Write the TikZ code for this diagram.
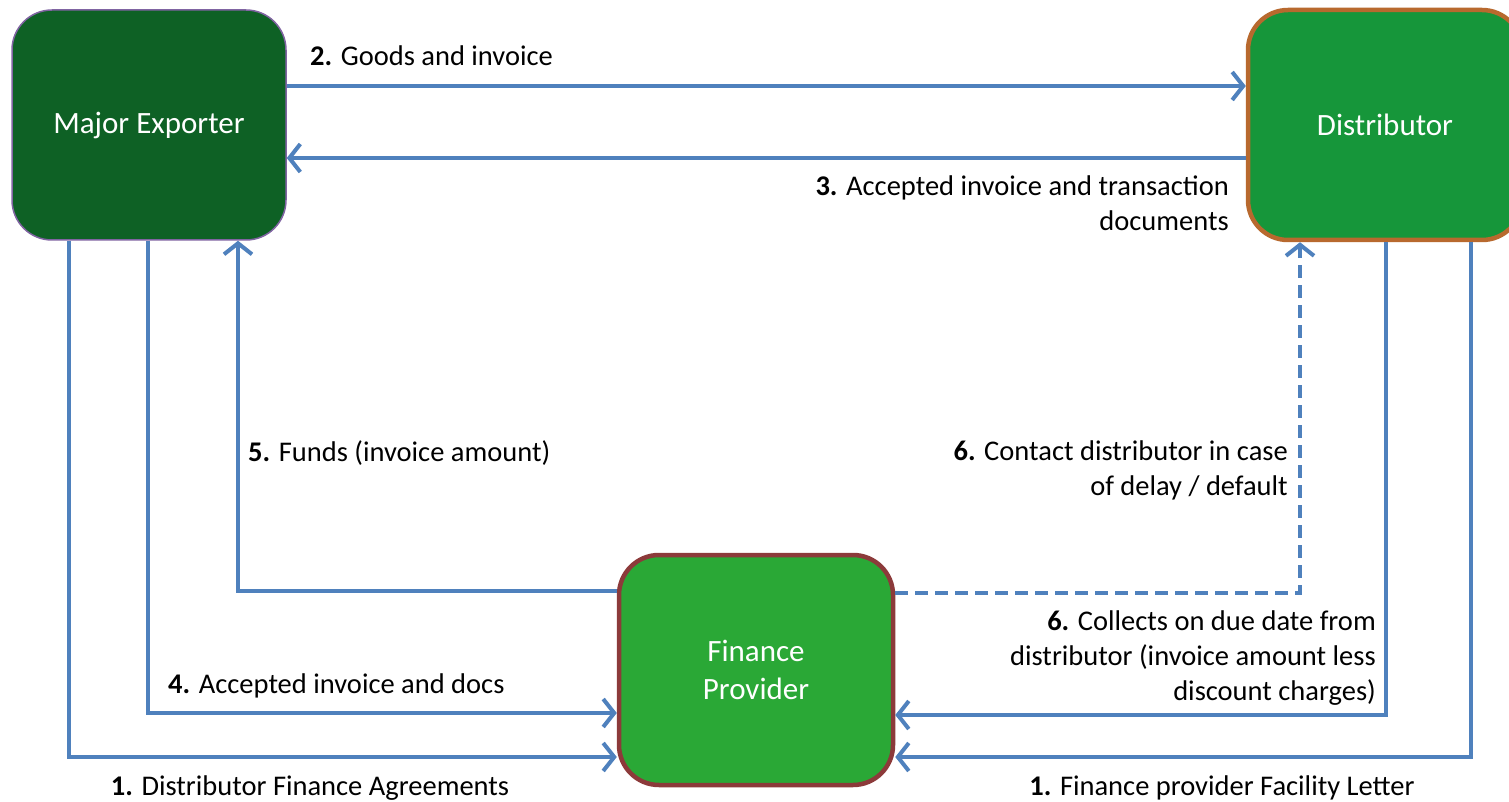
\documentclass[tikz,border=0pt]{standalone}
\usepackage{fontspec}
\setmainfont{Carlito}
\usetikzlibrary{arrows.meta}
\definecolor{arrblue}{HTML}{4F81BD}
\definecolor{expfill}{HTML}{0E6125}
\definecolor{expline}{HTML}{8064A2}
\definecolor{distfill}{HTML}{16963A}
\definecolor{distline}{HTML}{B8692E}
\definecolor{finfill}{HTML}{2AA836}
\definecolor{finline}{HTML}{8C3A3A}
\tikzset{
  boxnode/.style={rounded corners=40pt, minimum width=274pt, minimum height=230pt,
    text=white, font=\fontsize{31}{38}\selectfont, align=center, inner sep=0pt},
  arr/.style={draw=arrblue, line width=4pt, -{Straight Barb[length=11pt,width=28pt,line width=4pt]}},
  lbl/.style={inner sep=0pt, font=\fontsize{28.5}{35}\selectfont, text=black},
}
\begin{document}
\begin{tikzpicture}[x=1pt,y=-1pt]
\useasboundingbox[fill=white] (0,0) rectangle (1509,802);
\node[boxnode, fill=expfill, draw=expline, line width=1.5pt] (exp) at (149,125) {Major Exporter};
\node[boxnode, fill=distfill, draw=distline, line width=4.5pt] (dist) at (1385,125) {Distributor};
\node[boxnode, fill=finfill, draw=finline, line width=4.5pt] (fin) at (756,670) {Finance\\Provider};

% 2 and 3
\draw[arr] (exp.east |- 0,86) -- (dist.west |- 0,86);
\draw[arr] (dist.west |- 0,158) -- (exp.east |- 0,158);
% 1 left
\draw[arr] (exp.south -| 69,0) |- (fin.west |- 0,757);
% 4
\draw[arr] (exp.south -| 148,0) |- (fin.west |- 0,713);
% 5
\draw[arr] (fin.west |- 0,591) -| (exp.south -| 238,0);
% 6 dashed
\draw[arr, dash pattern=on 13pt off 7pt] (fin.east |- 0,593) -| (dist.south -| 1300,0);
% 6 collects
\draw[arr] (dist.south -| 1386,0) |- (fin.east |- 0,715);
% 1 right
\draw[arr] (dist.south -| 1471,0) |- (fin.east |- 0,757);

\node[lbl, anchor=west] (l2) at (310,56) {\textbf{2.} Goods and invoice};
\node[lbl, anchor=east, align=right] (l3) at (1229,203) {\textbf{3.} Accepted invoice and transaction\\documents};
\node[lbl] (l1a) at (310,788) {\textbf{1.} Distributor Finance Agreements};
\node[lbl, anchor=west] (l4) at (168,686) {\textbf{4.} Accepted invoice and docs};
\node[lbl, anchor=west] (l5) at (248,453) {\textbf{5.} Funds (invoice amount)};
\node[lbl, anchor=east, align=right] (l6a) at (1288,470) {\textbf{6.} Contact distributor in case\\of delay / default};
\node[lbl, anchor=east, align=right] (l6b) at (1376,658) {\textbf{6.} Collects on due date from\\distributor (invoice amount less\\discount charges)};
\node[lbl] (l1b) at (1222,788) {\textbf{1.} Finance provider Facility Letter};
\end{tikzpicture}
\end{document}
